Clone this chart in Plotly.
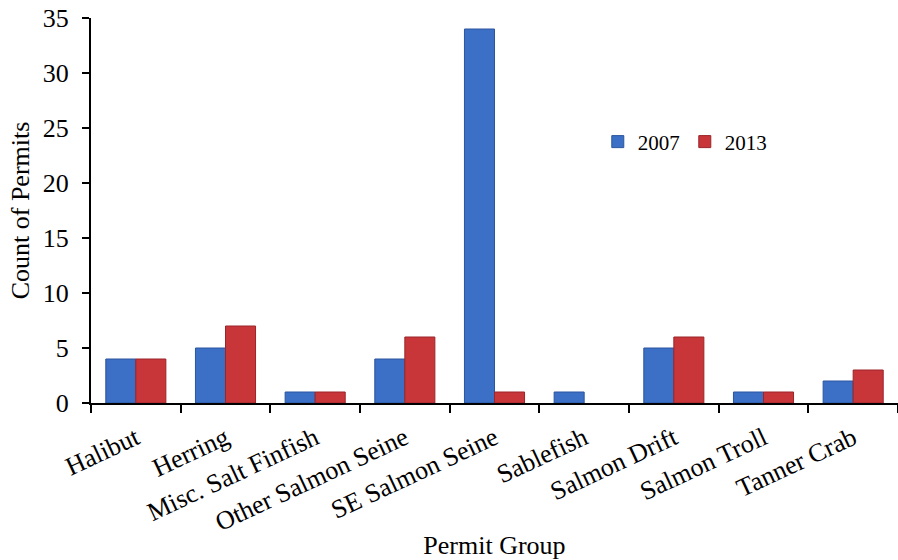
import plotly.graph_objects as go

# Permit groups and counts per year
groups = ["Halibut", "Herring", "Misc. Salt Finfish", "Other Salmon Seine",
          "SE Salmon Seine", "Sablefish", "Salmon Drift", "Salmon Troll", "Tanner Crab"]
permits_2007 = [4, 5, 1, 4, 34, 1, 5, 1, 2]
permits_2013 = [4, 7, 1, 6, 1, None, 6, 1, 3]
y_ticks = [0, 5, 10, 15, 20, 25, 30, 35]

FONT = "Liberation Serif"

fig = go.Figure()
fig.add_trace(go.Bar(
    x=groups, y=permits_2007, name="2007",
    marker=dict(color="#3b70c6", line=dict(color="#2b559c", width=1)),
))
fig.add_trace(go.Bar(
    x=groups, y=permits_2013, name="2013",
    marker=dict(color="#c8363a", line=dict(color="#9a2528", width=1)),
))

fig.update_layout(
    width=898, height=560,
    margin=dict(l=91, r=0, t=18, b=157),
    paper_bgcolor="white", plot_bgcolor="white",
    barmode="group", bargap=0.33, bargroupgap=0,
    font=dict(family=FONT, size=26, color="black"),
    legend=dict(
        orientation="h", x=0.628, y=0.678, xanchor="left", yanchor="middle",
        font=dict(family=FONT, size=21), bgcolor="rgba(0,0,0,0)",
        itemwidth=30, tracegroupgap=0,
    ),
    xaxis=dict(
        type="category", range=[-0.5, 8.5],
        showline=True, linecolor="black", linewidth=2,
        ticks="outside", tickson="boundaries", ticklen=8, tickwidth=2, tickcolor="black",
        tickangle=-25, tickfont=dict(family=FONT, size=26), ticklabelstandoff=8,
        title=dict(text="Permit Group", font=dict(family=FONT, size=26), standoff=2),
        showgrid=False, zeroline=False,
    ),
    yaxis=dict(
        range=[0, 35], tickvals=y_ticks,
        showline=True, linecolor="black", linewidth=2,
        ticks="outside", ticklen=7, tickwidth=2, tickcolor="black",
        tickfont=dict(family=FONT, size=26), ticklabelstandoff=8,
        title=dict(text="Count of Permits", font=dict(family=FONT, size=26), standoff=6),
        showgrid=False, zeroline=False,
    ),
)

fig.write_html("out.html")
